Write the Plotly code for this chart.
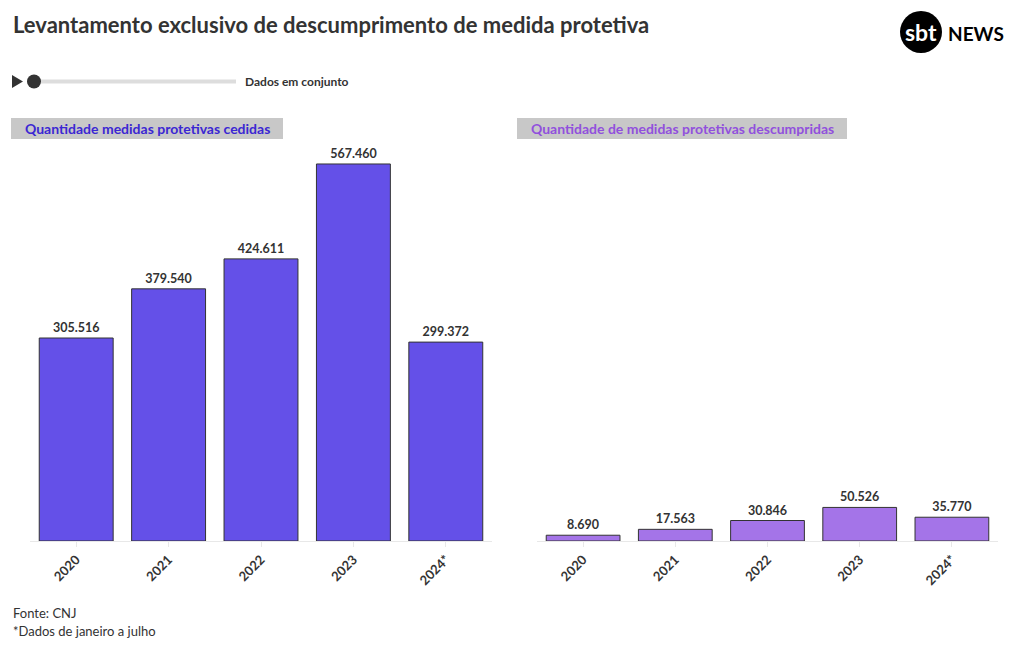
import plotly.graph_objects as go

anos = ["2020", "2021", "2022", "2023", "2024*"]
cedidas = [305516, 379540, 424611, 567460, 299372]
descumpridas = [8690, 17563, 30846, 50526, 35770]

titulo = "Levantamento exclusivo de descumprimento de medida protetiva"
painel_esq = "Quantidade medidas protetivas cedidas"
painel_dir = "Quantidade de medidas protetivas descumpridas"
rodape = ["Fonte: CNJ", "*Dados de janeiro a julho"]
slider_label = "Dados em conjunto"

W, H = 1020, 650
FONT = "Lato"
DARK = "#333333"
C_LEFT = "#6450e8"
C_RIGHT = "#a474e8"

def px(x):
    return x / W

def py(y):
    return 1 - y / H

fig = go.Figure()
fig.add_trace(go.Bar(x=anos, y=cedidas, xaxis="x", yaxis="y",
                     marker=dict(color=C_LEFT, line=dict(color=DARK, width=1)),
                     texttemplate="%{y:,}", textposition="outside", cliponaxis=False,
                     textfont=dict(family=FONT, size=12.5, color=DARK, weight="bold"),
                     hoverinfo="x+y"))
fig.add_trace(go.Bar(x=anos, y=descumpridas, xaxis="x2", yaxis="y2",
                     marker=dict(color=C_RIGHT, line=dict(color=DARK, width=1)),
                     texttemplate="%{y:,}", textposition="outside", cliponaxis=False,
                     textfont=dict(family=FONT, size=12.5, color=DARK, weight="bold"),
                     hoverinfo="x+y"))

axis_x = dict(showgrid=False, showline=True, linecolor="#e8e8e8", linewidth=1,
              ticks="outside", ticklen=5, tickcolor="#e8e8e8", tickangle=-45,
              tickfont=dict(family=FONT, size=13, color=DARK, weight="bold"),
              fixedrange=True)
axis_y = dict(range=[0, 590000], visible=False, fixedrange=True,
              domain=[py(541), py(149)])

fig.update_layout(
    width=W, height=H,
    margin=dict(l=0, r=0, t=0, b=0),
    paper_bgcolor="white", plot_bgcolor="white",
    separators=",.",
    showlegend=False,
    bargap=0.2,
    font=dict(family=FONT, color=DARK),
    xaxis=dict(axis_x, domain=[px(30), px(492)], anchor="y"),
    xaxis2=dict(axis_x, domain=[px(537), px(998)], anchor="y2"),
    yaxis=dict(axis_y, anchor="x"),
    yaxis2=dict(axis_y, anchor="x2"),
)

shapes = []
annotations = []

# title
annotations.append(dict(x=px(11), y=py(25), xref="paper", yref="paper",
                        xanchor="left", yanchor="middle", showarrow=False,
                        text=titulo, font=dict(family=FONT, size=22, color=DARK, weight="bold")))

# logo
shapes.append(dict(type="circle", xref="paper", yref="paper",
                   x0=px(900), x1=px(942), y0=py(53), y1=py(11),
                   fillcolor="black", line=dict(width=0)))
annotations.append(dict(x=px(921), y=py(32), xref="paper", yref="paper",
                        xanchor="center", yanchor="middle", showarrow=False,
                        text="sbt", font=dict(family=FONT, size=23, color="white", weight="bold")))
annotations.append(dict(x=px(946), y=py(33), xref="paper", yref="paper",
                        xanchor="left", yanchor="middle", showarrow=False,
                        text="NEWS", font=dict(family=FONT, size=19, color="black", weight="bold")))

# slider
shapes.append(dict(type="path", xref="paper", yref="paper",
                   path=f"M {px(12)} {py(75)} L {px(23)} {py(81.5)} L {px(12)} {py(88)} Z",
                   fillcolor=DARK, line=dict(width=0)))
shapes.append(dict(type="line", xref="paper", yref="paper",
                   x0=px(34), x1=px(236), y0=py(81.5), y1=py(81.5),
                   line=dict(color="#dddddd", width=4)))
shapes.append(dict(type="circle", xref="paper", yref="paper",
                   x0=px(27), x1=px(41), y0=py(88.5), y1=py(74.5),
                   fillcolor=DARK, line=dict(width=0)))
annotations.append(dict(x=px(243), y=py(81.5), xref="paper", yref="paper",
                        xanchor="left", yanchor="middle", showarrow=False,
                        text=slider_label, font=dict(family=FONT, size=12, color=DARK, weight="bold")))

# panel labels
shapes.append(dict(type="rect", xref="paper", yref="paper",
                   x0=px(11), x1=px(283), y0=py(139), y1=py(118),
                   fillcolor="#c8c8c8", line=dict(width=0), layer="below"))
annotations.append(dict(x=px(147), y=py(128.5), xref="paper", yref="paper",
                        xanchor="center", yanchor="middle", showarrow=False,
                        text=painel_esq, font=dict(family=FONT, size=14, color="#3b27d3", weight="bold")))
shapes.append(dict(type="rect", xref="paper", yref="paper",
                   x0=px(517), x1=px(847), y0=py(139), y1=py(118),
                   fillcolor="#c8c8c8", line=dict(width=0), layer="below"))
annotations.append(dict(x=px(682), y=py(128.5), xref="paper", yref="paper",
                        xanchor="center", yanchor="middle", showarrow=False,
                        text=painel_dir, font=dict(family=FONT, size=14, color="#9150dd", weight="bold")))

# footer
for i, t in enumerate(rodape):
    annotations.append(dict(x=px(11), y=py(613 + 18 * i), xref="paper", yref="paper",
                            xanchor="left", yanchor="middle", showarrow=False,
                            text=t, font=dict(family=FONT, size=13, color=DARK)))

fig.update_layout(shapes=shapes, annotations=annotations)
fig.write_html("out.html", config={"displayModeBar": False},
               post_script="document.body.style.margin='0';")
